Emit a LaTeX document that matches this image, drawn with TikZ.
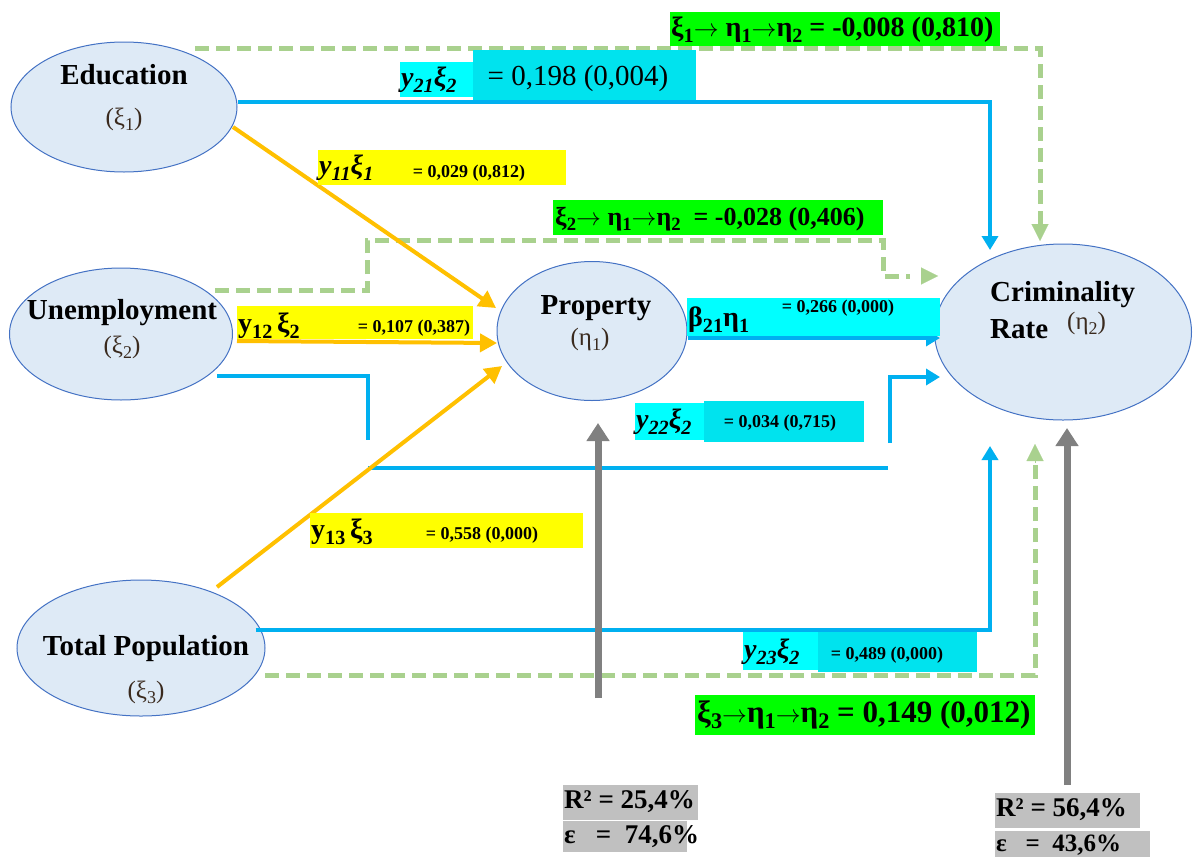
\documentclass[tikz,border=0pt]{standalone}
\usepackage{fontspec}
\setmainfont{Liberation Serif}
\usetikzlibrary{arrows.meta,shapes.geometric}
\definecolor{ellfill}{HTML}{DEEAF6}
\definecolor{elldraw}{HTML}{4472C4}
\definecolor{blu}{HTML}{00B0F0}
\definecolor{org}{HTML}{FFC000}
\definecolor{grn}{HTML}{A9D18E}
\definecolor{gry}{HTML}{808080}
\definecolor{yel}{HTML}{FFFF00}
\definecolor{cya}{HTML}{00FFFF}
\definecolor{cyb}{HTML}{00E3EE}
\definecolor{lim}{HTML}{00FF00}
\definecolor{lgr}{HTML}{C0C0C0}
\definecolor{symc}{HTML}{3A2A1E}
\newcommand{\fs}[1]{\fontsize{#1}{#1}\selectfont}
\newcommand{\sbs}[1]{\raisebox{-0.2em}{\scalebox{0.72}{#1}}}
\newcommand{\ra}{$\rightarrow$}
\begin{document}
\begin{tikzpicture}[x=1pt,y=-1pt,
  latent/.style={ellipse, draw=elldraw, line width=1pt, fill=ellfill, inner sep=0pt},
  ename/.style={font=\bfseries\fs{29}, inner sep=0pt},
  esym/.style={font=\fs{25}, text=symc, inner sep=0pt},
  bl/.style={draw=blu, line width=4.5pt},
  blarr/.style={bl, -{Triangle[length=14pt,width=16pt]}},
  orarr/.style={draw=org, line width=4pt, -{Triangle[length=17pt,width=18pt]}},
  gd/.style={draw=grn, line width=5pt, dash pattern=on 14pt off 7pt},
  gtip/.style={draw=grn, line width=0.1pt, -{Triangle[length=17pt,width=17pt]}},
  grarr/.style={draw=gry, line width=7pt, -{Triangle[length=18pt,width=22pt]}},
  sym/.style={font=\bfseries\fs{28}, inner sep=0pt, anchor=west},
  isym/.style={sym, font=\bfseries\itshape\fs{28}},
  val/.style={font=\bfseries\fs{18}, inner sep=0pt},
  pth/.style={font=\bfseries\fs{24}, inner sep=0pt, anchor=west},
  rsq/.style={font=\bfseries\fs{27}, inner sep=0pt, anchor=west}
]
\useasboundingbox (0,0) rectangle (1194,857);
\fill[white] (0,0) rectangle (1194,857);

% ---- latent variables ----
\node[latent, minimum width=226pt, minimum height=130pt] (edu) at (124,107) {};
\node[ename] (edut) at (124,75) {Education};
\node[esym] (edus) at (124,119) {(ξ\sbs{1})};

\node[latent, minimum width=223pt, minimum height=132pt] (une) at (121,334) {};
\node[ename] (unet) at (122,313) {Unemployment};
\node[esym] (unes) at (122,347) {(ξ\sbs{2})};

\node[latent, minimum width=248pt, minimum height=136pt] (pop) at (141,648) {};
\node[ename] (popt) at (146,649) {Total Population};
\node[esym] (pops) at (146,692) {(ξ\sbs{3})};

\node[latent, minimum width=190pt, minimum height=139pt] (prop) at (592,331) {};
\node[ename] (propt) at (596,308) {Property};
\node[esym] (props) at (590,339) {(η\sbs{1})};

\node[latent, minimum width=257pt, minimum height=176pt] (crim) at (1063,332) {};
\node[ename, anchor=west] (crimt) at (990,295) {Criminality};
\node[ename, anchor=west] (crimr) at (990,329) {Rate};
\node[esym, anchor=west] (crims) at (1067,323) {(η\sbs{2})};

% ---- named free ends ----
\coordinate (b1a) at (990,102);
\coordinate (b1e) at (990,250);
\coordinate (b2s) at (217,376);
\coordinate (b2a) at (368,376);
\coordinate (b2b) at (368,440);
\coordinate (b3a) at (368,468);
\coordinate (b3b) at (888,468);
\coordinate (b4a) at (890,443);
\coordinate (b4b) at (890,377);
\coordinate (b4e) at (940,377);
\coordinate (b5a) at (990,630);
\coordinate (b5e) at (990,446);
\coordinate (b6e) at (940,338);
\coordinate (g1a) at (195,48);
\coordinate (g1b) at (1040,48);
\coordinate (g1c) at (1040,224);
\coordinate (g1d) at (1040,241);
\coordinate (g2a) at (215,290);
\coordinate (g2b) at (367,290);
\coordinate (g2c) at (367,240);
\coordinate (g2d) at (883,240);
\coordinate (g2e) at (883,276);
\coordinate (g2f) at (910,276);
\coordinate (g2g) at (921,276);
\coordinate (g2h) at (938,276);
\coordinate (g3a) at (265,675);
\coordinate (g3b) at (1035,675);
\coordinate (g3c) at (1035,462);
\coordinate (g3d) at (1035,444);
\coordinate (r1a) at (598,698);
\coordinate (r1e) at (598,423);
\coordinate (r2a) at (1067,785);
\coordinate (r2e) at (1067,428);

% ---- green dashed indirect paths ----
\draw[gd] (g1a) -- (g1b) -- (g1c);
\draw[gtip] ([yshift=1pt]g1c) -- (g1d);
\draw[gd] (g2a) -- (g2b) -- (g2c) -- (g2d) -- (g2e) -- (g2f);
\draw[gtip] (g2g) -- (g2h);
\draw[gd] (g3a) -- (g3b) -- (g3c);
\draw[gtip] ([yshift=-1pt]g3c) -- (g3d);

% ---- blue paths ----
\draw[blarr] (edu.east |- b1a) -- (b1a) -- (b1e);
\draw[bl] (b2s) -- (b2a) -- (b2b);
\draw[bl] (b3a) -- (b3b);
\draw[blarr] (b4a) -- (b4b) -- (b4e);
\draw[blarr] (pop.east |- b5a) ++(-10,0) -- (b5a) -- (b5e);
\draw[blarr] (prop.east |- b6e) -- (b6e);

% ---- orange paths ----
\draw[orarr] (233,127) -- (496,308);
\draw[orarr] (237,341) -- (497,343);
\draw[orarr] (217,587) -- (502,366);

% ---- grey residual arrows ----
\draw[grarr] (r1a) -- (r1e);
\draw[grarr] (r2a) -- (r2e);

% ---- labels ----
\fill[lim] (670,12) rectangle (1000,46);
\node[pth, font=\bfseries\fs{28}] (l1) at (671,30) {ξ\sbs{1}\ra{} η\sbs{1}\ra η\sbs{2} = -0,008 (0,810)};

\fill[cya] (400,62) rectangle (473,97);
\fill[cyb] (473,50) rectangle (696,100);
\node[isym] (l2s) at (401,80) {y\sbs{21}ξ\sbs{2}};
\node[font=\fs{29}, inner sep=0pt] (l2v) at (578,79) {= 0,198 (0,004)};

\fill[yel] (318,150) rectangle (566,185);
\node[isym] (l3s) at (319,168) {y\sbs{11}ξ\sbs{1}};
\node[val] (l3v) at (469,173) {= 0,029 (0,812)};

\fill[lim] (553,200) rectangle (883,235);
\node[pth, font=\bfseries\fs{26}] (l4) at (555,219) {ξ\sbs{2}\ra{} η\sbs{1}\ra η\sbs{2}\ \ = -0,028 (0,406)};

\fill[yel] (237,306) rectangle (473,339);
\node[sym] (l5s) at (238,326) {y\sbs{12}\,ξ\sbs{2}};
\node[val] (l5v) at (414,328) {= 0,107 (0,387)};

\fill[cya] (687,298) rectangle (940,336);
\node[sym] (l6s) at (688,320) {β\sbs{21}η\sbs{1}};
\node[val] (l6v) at (838,308) {= 0,266 (0,000)};

\fill[cya] (635,403) rectangle (704,440);
\fill[cyb] (704,401) rectangle (864,442);
\node[isym] (l7s) at (636,422) {y\sbs{22}ξ\sbs{2}};
\node[val] (l7v) at (780,423) {= 0,034 (0,715)};

\fill[yel] (310,513) rectangle (583,548);
\node[sym] (l8s) at (311,532) {y\sbs{13}\,ξ\sbs{3}};
\node[val] (l8v) at (482,535) {= 0,558 (0,000)};

\fill[cya] (743,632) rectangle (818,670);
\fill[cyb] (818,632) rectangle (977,672);
\node[isym] (l9s) at (744,652) {y\sbs{23}ξ\sbs{2}};
\node[val] (l9v) at (887,655) {= 0,489 (0,000)};

\fill[lim] (695,695) rectangle (1035,735);
\node[pth, font=\bfseries\fs{31}] (l10) at (697,715) {ξ\sbs{3}\ra η\sbs{1}\ra η\sbs{2} = 0,149 (0,012)};

\fill[lgr] (563,785) rectangle (698,820);
\node[rsq] (r1t) at (564,802) {R² = 25,4\%};
\fill[lgr] (563,821) rectangle (687,852);
\node[rsq] (r1u) at (564,837) {ε\ \ \ =\ \ 74,6\%};

\fill[lgr] (995,793) rectangle (1140,828);
\node[rsq] (r2t) at (996,810) {R² = 56,4\%};
\fill[lgr] (995,831) rectangle (1150,857);
\node[rsq, font=\bfseries\fs{25}] (r2u) at (996,845) {ε\ \ \ =\ \ 43,6\%};
\end{tikzpicture}
\end{document}
